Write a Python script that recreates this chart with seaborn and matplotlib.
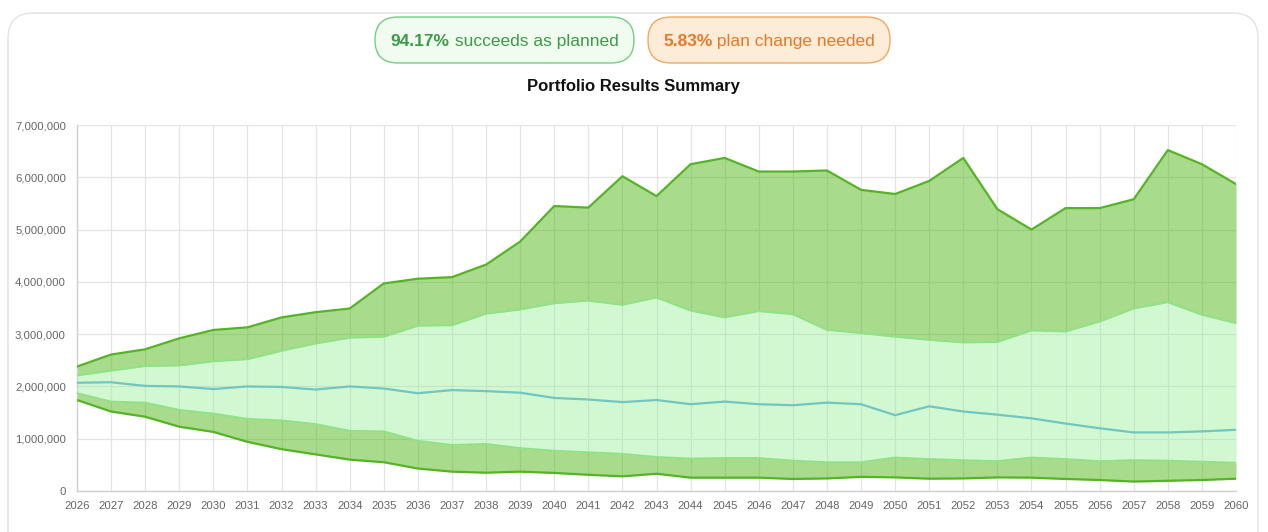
import numpy as np
import pandas as pd
import matplotlib.pyplot as plt
import seaborn as sns
from matplotlib.patches import FancyBboxPatch
from matplotlib.ticker import FuncFormatter

# --- data (values in millions) ---
years = list(range(2026, 2061))

p90 = [2.38, 2.61, 2.71, 2.92, 3.08, 3.13, 3.32, 3.42, 3.49, 3.97,
       4.06, 4.09, 4.33, 4.77, 5.45, 5.42, 6.02, 5.64, 6.25, 6.37,
       6.11, 6.11, 6.13, 5.76, 5.68, 5.93, 6.37, 5.39, 5.00, 5.41,
       5.41, 5.58, 6.52, 6.25, 5.87]
p75 = [2.21, 2.30, 2.39, 2.40, 2.48, 2.52, 2.68, 2.82, 2.93, 2.95,
       3.16, 3.17, 3.39, 3.47, 3.59, 3.64, 3.56, 3.70, 3.45, 3.32,
       3.44, 3.38, 3.08, 3.02, 2.95, 2.89, 2.84, 2.85, 3.07, 3.05,
       3.24, 3.49, 3.61, 3.37, 3.21]
median = [2.07, 2.08, 2.01, 2.00, 1.95, 2.00, 1.99, 1.94, 2.00, 1.96,
          1.87, 1.93, 1.91, 1.88, 1.78, 1.75, 1.70, 1.74, 1.66, 1.71,
          1.66, 1.64, 1.69, 1.66, 1.45, 1.62, 1.52, 1.46, 1.39, 1.29,
          1.20, 1.12, 1.12, 1.14, 1.17]
p25 = [1.87, 1.71, 1.69, 1.55, 1.48, 1.38, 1.35, 1.28, 1.15, 1.14,
       0.96, 0.88, 0.90, 0.82, 0.77, 0.74, 0.71, 0.65, 0.62, 0.63,
       0.63, 0.58, 0.55, 0.55, 0.64, 0.61, 0.59, 0.57, 0.64, 0.61,
       0.57, 0.59, 0.58, 0.56, 0.54]
p10 = [1.74, 1.52, 1.42, 1.23, 1.13, 0.94, 0.80, 0.70, 0.60, 0.55,
       0.43, 0.37, 0.35, 0.37, 0.345, 0.31, 0.28, 0.33, 0.255, 0.255,
       0.255, 0.23, 0.24, 0.27, 0.26, 0.235, 0.24, 0.26, 0.255, 0.23,
       0.21, 0.18, 0.195, 0.21, 0.235]

success_pct = "94.17%"
fail_pct = "5.83%"

df = pd.DataFrame({"year": years, "p90": p90, "p75": p75, "median": median,
                   "p25": p25, "p10": p10})
for c in ["p90", "p75", "median", "p25", "p10"]:
    df[c] = df[c] * 1e6

sns.set_style("white")
plt.rcParams["font.family"] = ["Liberation Sans", "DejaVu Sans"]

fig = plt.figure(figsize=(12.68, 5.32), dpi=100)
W, H = 1268, 532

# card outline
card = FancyBboxPatch((8 / W, -0.05), 1250 / W, (H - 13) / H + 0.05,
                      boxstyle="round,pad=0,rounding_size=0.02",
                      transform=fig.transFigure, facecolor="none",
                      edgecolor="#e2e2e2", linewidth=1.0, zorder=-1,
                      mutation_aspect=W / H)
fig.patches.append(card)

ax = fig.add_axes([77 / W, 41 / H, 1159 / W, 366 / H])
ax.set_facecolor("none")

dark_fill = (0.32, 0.72, 0.10, 0.5)
light_fill = (0.565, 0.933, 0.565, 0.4)
dark_line = "#55b425"
light_line = "#8fe385"

ax.fill_between(df["year"], df["p75"], df["p90"], color=dark_fill, lw=0, zorder=2)
ax.fill_between(df["year"], df["p25"], df["p75"], color=light_fill, lw=0, zorder=2)
ax.fill_between(df["year"], df["p10"], df["p25"], color=dark_fill, lw=0, zorder=2)

sns.lineplot(data=df, x="year", y="p90", ax=ax, color=dark_line, lw=1.6, zorder=3)
sns.lineplot(data=df, x="year", y="p75", ax=ax, color=light_line, lw=1.4, zorder=3)
sns.lineplot(data=df, x="year", y="median", ax=ax, color="#72c6c0", lw=1.6, zorder=3)
sns.lineplot(data=df, x="year", y="p25", ax=ax, color=light_line, lw=1.4, zorder=3)
sns.lineplot(data=df, x="year", y="p10", ax=ax, color=dark_line, lw=1.6, zorder=3)

ax.set_xlim(2026, 2060)
ax.set_ylim(0, 7e6)
ax.set_xticks(years)
ax.set_xticklabels([str(y) for y in years])
ax.set_yticks(np.arange(0, 7e6 + 1, 1e6))
ax.yaxis.set_major_formatter(FuncFormatter(lambda v, p: f"{int(v):,}"))
ax.set_xlabel("")
ax.set_ylabel("")

ax.grid(True, color="#e4e4e4", linewidth=0.9, zorder=1)
ax.set_axisbelow(True)
for s in ["top", "right"]:
    ax.spines[s].set_visible(False)
for s in ["left", "bottom"]:
    ax.spines[s].set_color("#d0d0d0")
    ax.spines[s].set_linewidth(1.0)
ax.tick_params(axis="both", colors="#d0d0d0", labelcolor="#666666",
               labelsize=8.2, width=0.9)
ax.tick_params(axis="y", length=6, pad=2)
ax.tick_params(axis="x", length=4, pad=3)

# title
fig.text(633 / W, 1 - 87 / H, "Portfolio Results Summary", ha="center",
         va="center", fontsize=12, fontweight="bold", color="#111111")

# badges
renderer = fig.canvas.get_renderer()


def badge(x0, x1, y0, y1, bold, rest, face, edge, tcolor):
    box = FancyBboxPatch((x0 / W, 1 - y1 / H), (x1 - x0) / W, (y1 - y0) / H,
                         boxstyle="round,pad=0,rounding_size=0.018",
                         transform=fig.transFigure, facecolor=face,
                         edgecolor=edge, linewidth=1.0,
                         mutation_aspect=W / H)
    fig.patches.append(box)
    yb = 1 - ((y0 + y1) / 2 + 6) / H
    t1 = fig.text(0, yb, bold, fontsize=12.5, fontweight="bold", color=tcolor,
                  va="baseline", ha="left")
    t2 = fig.text(0, yb, " " + rest, fontsize=12.5, color=tcolor,
                  va="baseline", ha="left")
    w1 = t1.get_window_extent(renderer).width
    w2 = t2.get_window_extent(renderer).width
    start = (x0 + x1) / 2 - (w1 + w2) / 2
    t1.set_x(start / W)
    t2.set_x((start + w1) / W)


badge(375, 634, 17, 63, success_pct, "succeeds as planned",
      "#f1fcf1", "#72d07e", "#3d9a47")
badge(648, 890, 17, 63, fail_pct, "plan change needed",
      "#fcecd8", "#efa95f", "#e9782a")

fig.savefig("out.png", dpi=100)
